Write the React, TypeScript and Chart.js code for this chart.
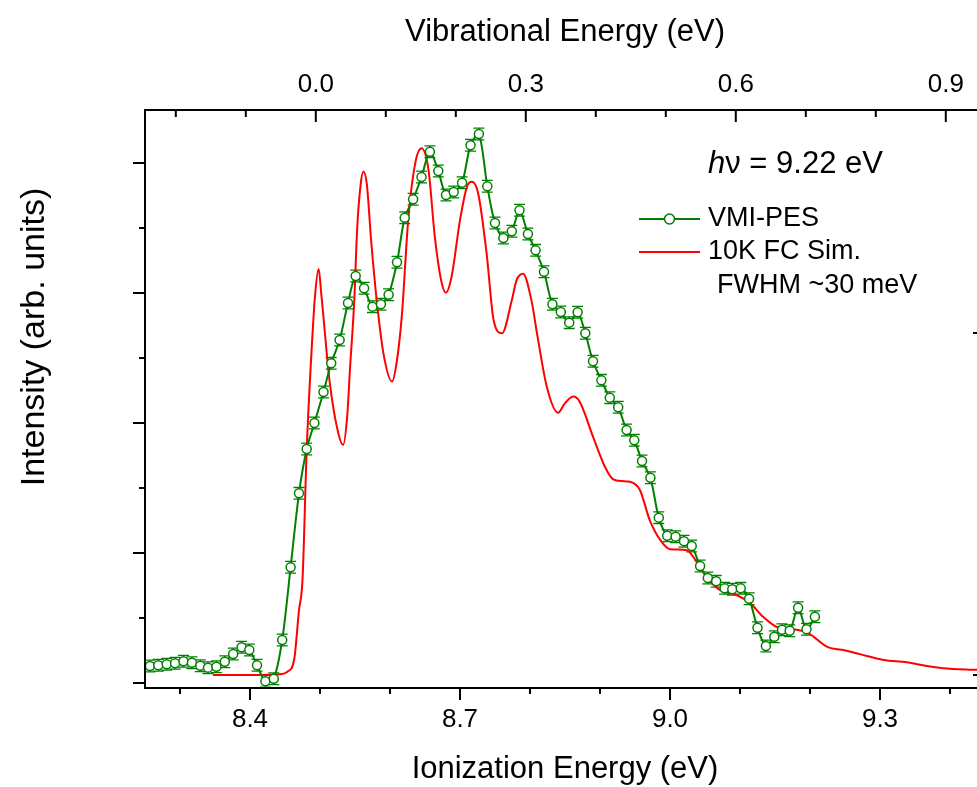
import React, { useEffect, useRef } from "react";
import { Chart, registerables } from "chart.js";

Chart.register(...registerables);

const FONT = "'Liberation Sans', Arial, Helvetica, sans-serif";

// VMI-PES experimental spectrum (ionization energy in eV, intensity in arb. units)
const PES_ENERGY = [
  8.257, 8.269, 8.281, 8.293, 8.305, 8.317, 8.329, 8.340, 8.352, 8.364,
  8.376, 8.388, 8.399, 8.410, 8.422, 8.434, 8.446, 8.458, 8.470, 8.481,
  8.492, 8.505, 8.516, 8.528, 8.540, 8.551, 8.563, 8.575, 8.587, 8.598,
  8.610, 8.621, 8.633, 8.645, 8.657, 8.669, 8.680, 8.691, 8.703, 8.715,
  8.727, 8.739, 8.750, 8.762, 8.774, 8.785, 8.797, 8.808, 8.820, 8.832,
  8.844, 8.856, 8.868, 8.879, 8.890, 8.902, 8.914, 8.926, 8.938, 8.949,
  8.960, 8.972, 8.984, 8.996, 9.008, 9.020, 9.031, 9.043, 9.054, 9.066,
  9.078, 9.089, 9.101, 9.113, 9.125, 9.137, 9.149, 9.160, 9.171, 9.183,
  9.195, 9.207,
];
const PES_INTENSITY = [
  0.131, 0.136, 0.144, 0.152, 0.167, 0.156, 0.133, 0.118, 0.125, 0.164,
  0.223, 0.275, 0.254, 0.136, 0.013, 0.033, 0.331, 0.890, 1.459, 1.800,
  2.000, 2.238, 2.459, 2.638, 2.923, 3.131, 3.036, 2.895, 2.913, 2.987,
  3.236, 3.579, 3.721, 3.892, 4.087, 3.938, 3.754, 3.777, 3.848, 4.136,
  4.223, 3.821, 3.538, 3.423, 3.475, 3.636, 3.454, 3.328, 3.164, 2.913,
  2.854, 2.772, 2.852, 2.690, 2.475, 2.328, 2.195, 2.121, 1.946, 1.867,
  1.708, 1.579, 1.272, 1.133, 1.125, 1.090, 1.054, 0.900, 0.808, 0.782,
  0.728, 0.721, 0.728, 0.648, 0.425, 0.285, 0.356, 0.410, 0.402, 0.579,
  0.413, 0.510,
];
const PES_ERROR = 0.045;

// 10 K Franck-Condon simulation (right-hand intensity axis)
const FC_ENERGY = [
  8.347, 8.400, 8.443, 8.453, 8.463, 8.470, 8.475, 8.481, 8.488, 8.493,
  8.498, 8.502, 8.514, 8.526, 8.533, 8.539, 8.543, 8.549, 8.553, 8.558,
  8.562, 8.567, 8.573, 8.581, 8.591, 8.603, 8.610, 8.617, 8.626, 8.636,
  8.645, 8.655, 8.664, 8.674, 8.680, 8.688, 8.700, 8.710, 8.717, 8.726,
  8.738, 8.748, 8.760, 8.774, 8.781, 8.790, 8.802, 8.810, 8.824, 8.840,
  8.850, 8.862, 8.871, 8.890, 8.907, 8.919, 8.931, 8.943, 8.957, 8.971,
  8.986, 9.000, 9.024, 9.038, 9.052, 9.071, 9.095, 9.114, 9.133, 9.154,
  9.181, 9.198, 9.224, 9.252, 9.271, 9.305, 9.338, 9.367, 9.390, 9.439,
];
const FC_INTENSITY = [
  0.000, 0.000, 0.002, 0.009, 0.044, 0.190, 0.278, 0.658, 0.950, 1.111,
  1.187, 1.111, 0.854, 0.708, 0.673, 0.760, 0.901, 1.096, 1.301, 1.433,
  1.472, 1.433, 1.272, 1.096, 0.936, 0.858, 0.921, 1.053, 1.330, 1.496,
  1.540, 1.477, 1.282, 1.145, 1.118, 1.165, 1.330, 1.428, 1.442, 1.408,
  1.233, 1.038, 0.999, 1.096, 1.155, 1.173, 1.096, 0.999, 0.843, 0.767,
  0.795, 0.814, 0.799, 0.697, 0.609, 0.572, 0.567, 0.565, 0.541, 0.453,
  0.395, 0.368, 0.365, 0.331, 0.287, 0.249, 0.234, 0.211, 0.170, 0.139,
  0.132, 0.122, 0.083, 0.071, 0.061, 0.044, 0.037, 0.026, 0.020, 0.015,
];

const ADIABATIC_IE = 8.494; // vibrational energy origin on the top axis
const IE_MIN = 8.25;
const IE_MAX = 9.45;

const X_MAJOR = [8.4, 8.7, 9.0, 9.3];
const X_MINOR = [8.3, 8.5, 8.6, 8.8, 8.9, 9.1, 9.2, 9.4];
const VIB_MAJOR = [0.0, 0.3, 0.6, 0.9];
const VIB_MINOR = [-0.2, -0.1, 0.1, 0.2, 0.4, 0.5, 0.7, 0.8];
const Y_MAJOR = [0, 1, 2, 3, 4];
const Y_MINOR = [0.5, 1.5, 2.5, 3.5];
const Y2_TICKS = [0, 1];

const GREEN = "#008000";
const RED = "#ff0000";

const decorPlugin = {
  id: "decor",
  beforeDatasetsDraw(chart: any) {
    const { ctx, scales } = chart;
    const x = scales.x;
    const y = scales.y;
    ctx.save();
    ctx.beginPath();
    ctx.rect(chart.chartArea.left, chart.chartArea.top, chart.chartArea.right - chart.chartArea.left, chart.chartArea.bottom - chart.chartArea.top);
    ctx.clip();
    ctx.strokeStyle = GREEN;
    ctx.lineWidth = 1.3;
    ctx.beginPath();
    PES_ENERGY.forEach((e, i) => {
      const px = x.getPixelForValue(e);
      const yt = y.getPixelForValue(PES_INTENSITY[i] + PES_ERROR);
      const yb = y.getPixelForValue(PES_INTENSITY[i] - PES_ERROR);
      ctx.moveTo(px, yt);
      ctx.lineTo(px, yb);
      ctx.moveTo(px - 5.5, yt);
      ctx.lineTo(px + 5.5, yt);
      ctx.moveTo(px - 5.5, yb);
      ctx.lineTo(px + 5.5, yb);
    });
    ctx.stroke();
    ctx.restore();
  },
  afterDraw(chart: any) {
    const { ctx, scales, chartArea } = chart;
    const { left, right, top, bottom } = chartArea;
    const x = scales.x;
    const x2 = scales.x2;
    const y = scales.y;
    const y2 = scales.y2;
    ctx.save();
    ctx.strokeStyle = "#000";
    ctx.lineWidth = 2;
    ctx.beginPath();
    ctx.rect(left, top, right - left, bottom - top);
    const seg = (a: number, b: number, c: number, d: number) => {
      ctx.moveTo(a, b);
      ctx.lineTo(c, d);
    };
    X_MAJOR.forEach((v) => { const p = x.getPixelForValue(v); seg(p, bottom, p, bottom + 12); });
    X_MINOR.forEach((v) => { const p = x.getPixelForValue(v); seg(p, bottom, p, bottom + 6); });
    VIB_MAJOR.forEach((v) => { const p = x2.getPixelForValue(v); seg(p, top, p, top + 12); });
    VIB_MINOR.forEach((v) => { const p = x2.getPixelForValue(v); seg(p, top, p, top + 7); });
    Y_MAJOR.forEach((v) => { const p = y.getPixelForValue(v); seg(left - 12, p, left, p); });
    Y_MINOR.forEach((v) => { const p = y.getPixelForValue(v); seg(left - 6, p, left, p); });
    Y2_TICKS.forEach((v) => { const p = y2.getPixelForValue(v); seg(right, p, right - 12, p); });
    ctx.stroke();

    // y-axis title
    ctx.fillStyle = "#000";
    ctx.save();
    ctx.translate(35, 337);
    ctx.rotate(-Math.PI / 2);
    ctx.font = `34px ${FONT}`;
    ctx.textAlign = "center";
    ctx.textBaseline = "middle";
    ctx.fillText("Intensity (arb. units)", 0, 0);
    ctx.restore();

    // photon energy annotation
    ctx.textBaseline = "middle";
    ctx.textAlign = "left";
    ctx.font = `italic 31px ${FONT}`;
    ctx.fillText("h", 708, 164);
    const hw = ctx.measureText("h").width;
    ctx.font = `31px ${FONT}`;
    ctx.fillText("\u03bd = 9.22 eV", 708 + hw, 164);

    // legend
    ctx.lineWidth = 2;
    ctx.strokeStyle = GREEN;
    ctx.beginPath();
    ctx.moveTo(639, 219);
    ctx.lineTo(700, 219);
    ctx.stroke();
    ctx.beginPath();
    ctx.arc(669.5, 219, 5, 0, Math.PI * 2);
    ctx.fillStyle = "#fff";
    ctx.fill();
    ctx.lineWidth = 1.5;
    ctx.stroke();
    ctx.strokeStyle = RED;
    ctx.lineWidth = 2;
    ctx.beginPath();
    ctx.moveTo(639, 252);
    ctx.lineTo(700, 252);
    ctx.stroke();
    ctx.fillStyle = "#000";
    ctx.font = `27px ${FONT}`;
    ctx.fillText("VMI-PES", 708, 219);
    ctx.fillText("10K FC Sim.", 708, 252);
    ctx.fillText("FWHM ~30 meV", 717, 286);
    ctx.restore();
  },
};

export default function App() {
  const ref = useRef<HTMLCanvasElement | null>(null);

  useEffect(() => {
    if (!ref.current) return;
    const tickFont = { family: FONT, size: 26 };
    const titleFont = { family: FONT, size: 31 };
    const chart = new Chart(ref.current, {
      type: "line",
      data: {
        datasets: [
          {
            label: "VMI-PES",
            data: PES_ENERGY.map((e, i) => ({ x: e, y: PES_INTENSITY[i] })),
            borderColor: GREEN,
            borderWidth: 2,
            backgroundColor: "#ffffff",
            pointRadius: 4.5,
            pointBorderWidth: 1.5,
            pointBorderColor: GREEN,
            pointBackgroundColor: "#ffffff",
            tension: 0.3,
            xAxisID: "x",
            yAxisID: "y",
          },
          {
            label: "10K FC Sim. FWHM ~30 meV",
            data: FC_ENERGY.map((e, i) => ({ x: e, y: FC_INTENSITY[i] })),
            borderColor: RED,
            borderWidth: 2,
            pointRadius: 0,
            cubicInterpolationMode: "monotone",
            xAxisID: "x",
            yAxisID: "y2",
          },
        ],
      },
      options: {
        animation: false,
        responsive: false,
        maintainAspectRatio: false,
        devicePixelRatio: 1,
        layout: { padding: 0 },
        plugins: {
          legend: { display: false },
          tooltip: { enabled: false },
        },
        scales: {
          x: {
            type: "linear",
            position: "bottom",
            min: IE_MIN,
            max: IE_MAX,
            afterBuildTicks: (s: any) => { s.ticks = X_MAJOR.map((v) => ({ value: v })); },
            ticks: {
              callback: (v: any) => Number(v).toFixed(1),
              font: tickFont,
              color: "#000",
              padding: 4,
              maxRotation: 0,
              autoSkip: false,
            },
            grid: { display: false, drawTicks: true, tickLength: 12 },
            border: { display: false },
            title: {
              display: true,
              text: "Ionization Energy (eV)",
              font: { ...titleFont, lineHeight: 1.1 },
              color: "#000",
              padding: { top: 0, bottom: 0 },
            },
            afterFit: (s: any) => { s.height = 99; },
          },
          x2: {
            type: "linear",
            position: "top",
            min: IE_MIN - ADIABATIC_IE,
            max: IE_MAX - ADIABATIC_IE,
            afterBuildTicks: (s: any) => { s.ticks = VIB_MAJOR.map((v) => ({ value: v })); },
            ticks: {
              callback: (v: any) => Number(v).toFixed(1),
              font: tickFont,
              color: "#000",
              padding: 2,
              maxRotation: 0,
              autoSkip: false,
            },
            grid: { display: false, drawTicks: true, tickLength: 8 },
            border: { display: false },
            title: {
              display: true,
              text: "Vibrational Energy (eV)",
              font: titleFont,
              color: "#000",
              padding: { top: 14, bottom: 0 },
            },
            afterFit: (s: any) => { s.height = 110; },
          },
          y: {
            type: "linear",
            position: "left",
            min: -0.0385,
            max: 4.4077,
            ticks: { display: false },
            grid: { display: false },
            border: { display: false },
            afterFit: (s: any) => { s.width = 145; },
          },
          y2: {
            type: "linear",
            position: "right",
            min: -0.038,
            max: 1.652,
            ticks: { display: false },
            grid: { display: false },
            border: { display: false },
            afterFit: (s: any) => { s.width = 15; },
          },
        },
      },
      plugins: [decorPlugin],
    } as any);
    return () => chart.destroy();
  }, []);

  return (
    <div
      style={{
        position: "fixed",
        left: 0,
        top: 0,
        width: 977,
        height: 787,
        overflow: "hidden",
        background: "#fff",
      }}
    >
      <canvas ref={ref} width={1000} height={787} style={{ display: "block", width: 1000, height: 787 }} />
    </div>
  );
}
